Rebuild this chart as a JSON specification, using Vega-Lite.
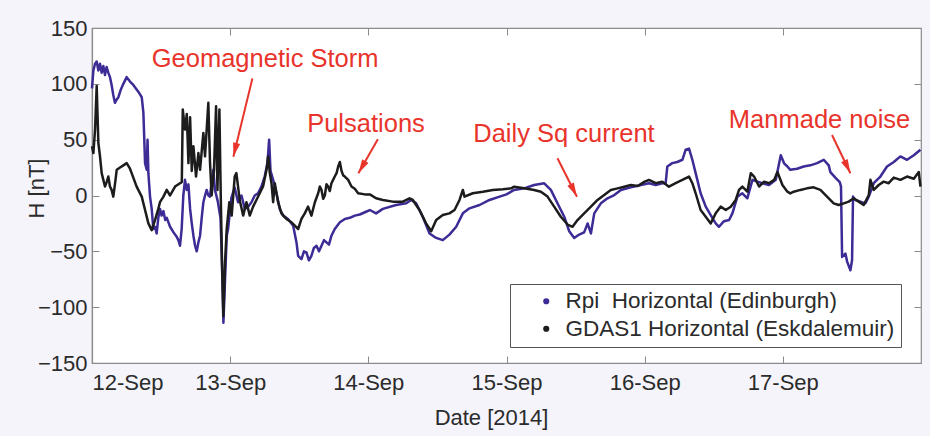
{
"$schema": "https://vega.github.io/schema/vega-lite/v6.json",
"width": 829, "height": 335,
"autosize": {"type": "none"},
"padding": {"left": 92, "top": 28, "right": 9, "bottom": 73},
"background": "#f4f4fa",
"config": {"font": "Liberation Sans", "view": {"fill": "white", "stroke": "#8a8a8a", "strokeWidth": 1.2}},
"datasets": {
"h": [
{"t":12.000,"s":"R","v":96},{"t":12.010,"s":"R","v":112},{"t":12.022,"s":"R","v":118},{"t":12.034,"s":"R","v":120},{"t":12.046,"s":"R","v":112},{"t":12.058,"s":"R","v":118},{"t":12.070,"s":"R","v":110},{"t":12.082,"s":"R","v":116},{"t":12.094,"s":"R","v":108},{"t":12.106,"s":"R","v":115},{"t":12.118,"s":"R","v":110},{"t":12.130,"s":"R","v":106},{"t":12.142,"s":"R","v":99},{"t":12.154,"s":"R","v":90},{"t":12.166,"s":"R","v":83},{"t":12.179,"s":"R","v":86},{"t":12.191,"s":"R","v":88},{"t":12.209,"s":"R","v":95},{"t":12.227,"s":"R","v":100},{"t":12.251,"s":"R","v":106},{"t":12.275,"s":"R","v":102},{"t":12.299,"s":"R","v":99},{"t":12.323,"s":"R","v":95},{"t":12.335,"s":"R","v":93},{"t":12.360,"s":"R","v":88},{"t":12.372,"s":"R","v":74},{"t":12.384,"s":"R","v":29},{"t":12.396,"s":"R","v":23},{"t":12.402,"s":"R","v":50},{"t":12.408,"s":"R","v":20},{"t":12.420,"s":"R","v":-1},{"t":12.432,"s":"R","v":-12},{"t":12.444,"s":"R","v":-30},{"t":12.456,"s":"R","v":-28},{"t":12.468,"s":"R","v":-34},{"t":12.480,"s":"R","v":-20},{"t":12.492,"s":"R","v":-12},{"t":12.504,"s":"R","v":-18},{"t":12.517,"s":"R","v":-14},{"t":12.530,"s":"R","v":-22},{"t":12.541,"s":"R","v":-20},{"t":12.565,"s":"R","v":-28},{"t":12.590,"s":"R","v":-33},{"t":12.613,"s":"R","v":-37},{"t":12.625,"s":"R","v":-40},{"t":12.637,"s":"R","v":-45},{"t":12.649,"s":"R","v":-30},{"t":12.661,"s":"R","v":0},{"t":12.673,"s":"R","v":14},{"t":12.686,"s":"R","v":5},{"t":12.698,"s":"R","v":10},{"t":12.710,"s":"R","v":-12},{"t":12.722,"s":"R","v":-25},{"t":12.734,"s":"R","v":-36},{"t":12.746,"s":"R","v":-45},{"t":12.758,"s":"R","v":-50},{"t":12.770,"s":"R","v":-42},{"t":12.782,"s":"R","v":-36},{"t":12.794,"s":"R","v":-20},{"t":12.806,"s":"R","v":-6},{"t":12.818,"s":"R","v":0},{"t":12.830,"s":"R","v":5},{"t":12.842,"s":"R","v":0},{"t":12.854,"s":"R","v":-1},{"t":12.866,"s":"R","v":12},{"t":12.878,"s":"R","v":23},{"t":12.890,"s":"R","v":5},{"t":12.910,"s":"R","v":-5},{"t":12.930,"s":"R","v":-20},{"t":12.939,"s":"R","v":-54},{"t":12.951,"s":"R","v":-114},{"t":12.963,"s":"R","v":-75},{"t":12.975,"s":"R","v":-36},{"t":12.985,"s":"R","v":-30},{"t":13.009,"s":"R","v":-2},{"t":13.033,"s":"R","v":7},{"t":13.057,"s":"R","v":-6},{"t":13.082,"s":"R","v":0},{"t":13.106,"s":"R","v":-12},{"t":13.130,"s":"R","v":-10},{"t":13.154,"s":"R","v":-6},{"t":13.178,"s":"R","v":0},{"t":13.202,"s":"R","v":2},{"t":13.226,"s":"R","v":8},{"t":13.250,"s":"R","v":17},{"t":13.270,"s":"R","v":29},{"t":13.282,"s":"R","v":50},{"t":13.292,"s":"R","v":22},{"t":13.311,"s":"R","v":14},{"t":13.335,"s":"R","v":2},{"t":13.359,"s":"R","v":-12},{"t":13.383,"s":"R","v":-18},{"t":13.419,"s":"R","v":-21},{"t":13.456,"s":"R","v":-27},{"t":13.480,"s":"R","v":-42},{"t":13.492,"s":"R","v":-54},{"t":13.516,"s":"R","v":-57},{"t":13.534,"s":"R","v":-50},{"t":13.552,"s":"R","v":-51},{"t":13.570,"s":"R","v":-58},{"t":13.588,"s":"R","v":-54},{"t":13.606,"s":"R","v":-47},{"t":13.625,"s":"R","v":-45},{"t":13.643,"s":"R","v":-50},{"t":13.661,"s":"R","v":-45},{"t":13.679,"s":"R","v":-40},{"t":13.697,"s":"R","v":-42},{"t":13.715,"s":"R","v":-44},{"t":13.733,"s":"R","v":-36},{"t":13.757,"s":"R","v":-30},{"t":13.794,"s":"R","v":-24},{"t":13.830,"s":"R","v":-21},{"t":13.866,"s":"R","v":-20},{"t":13.902,"s":"R","v":-18},{"t":13.938,"s":"R","v":-17},{"t":13.975,"s":"R","v":-15},{"t":14.011,"s":"R","v":-13},{"t":14.056,"s":"R","v":-16},{"t":14.105,"s":"R","v":-12},{"t":14.201,"s":"R","v":-8.5},{"t":14.274,"s":"R","v":-7},{"t":14.310,"s":"R","v":-4},{"t":14.346,"s":"R","v":-7},{"t":14.394,"s":"R","v":-19},{"t":14.443,"s":"R","v":-34},{"t":14.491,"s":"R","v":-38},{"t":14.539,"s":"R","v":-40},{"t":14.587,"s":"R","v":-35},{"t":14.636,"s":"R","v":-28},{"t":14.684,"s":"R","v":-16},{"t":14.732,"s":"R","v":-11.5},{"t":14.805,"s":"R","v":-8.5},{"t":14.877,"s":"R","v":-4},{"t":14.950,"s":"R","v":-1},{"t":15.000,"s":"R","v":1},{"t":15.055,"s":"R","v":5},{"t":15.128,"s":"R","v":6.4},{"t":15.200,"s":"R","v":9.4},{"t":15.273,"s":"R","v":10.9},{"t":15.321,"s":"R","v":5},{"t":15.369,"s":"R","v":-7},{"t":15.418,"s":"R","v":-19},{"t":15.454,"s":"R","v":-32},{"t":15.490,"s":"R","v":-38},{"t":15.526,"s":"R","v":-35},{"t":15.562,"s":"R","v":-33},{"t":15.587,"s":"R","v":-25},{"t":15.611,"s":"R","v":-34},{"t":15.635,"s":"R","v":-16},{"t":15.683,"s":"R","v":-7},{"t":15.731,"s":"R","v":-2.5},{"t":15.780,"s":"R","v":0.4},{"t":15.828,"s":"R","v":5},{"t":15.900,"s":"R","v":7.3},{"t":15.973,"s":"R","v":9.4},{"t":16.031,"s":"R","v":11},{"t":16.080,"s":"R","v":9.4},{"t":16.128,"s":"R","v":11},{"t":16.152,"s":"R","v":11},{"t":16.164,"s":"R","v":26},{"t":16.200,"s":"R","v":29},{"t":16.236,"s":"R","v":30},{"t":16.273,"s":"R","v":32},{"t":16.297,"s":"R","v":41},{"t":16.321,"s":"R","v":42},{"t":16.345,"s":"R","v":32},{"t":16.369,"s":"R","v":20},{"t":16.405,"s":"R","v":2},{"t":16.442,"s":"R","v":-10},{"t":16.478,"s":"R","v":-17.5},{"t":16.514,"s":"R","v":-25},{"t":16.538,"s":"R","v":-28},{"t":16.574,"s":"R","v":-23},{"t":16.611,"s":"R","v":-22},{"t":16.635,"s":"R","v":-16},{"t":16.671,"s":"R","v":-1},{"t":16.707,"s":"R","v":2},{"t":16.743,"s":"R","v":-2.5},{"t":16.780,"s":"R","v":14},{"t":16.816,"s":"R","v":12.4},{"t":16.852,"s":"R","v":11},{"t":16.900,"s":"R","v":9.4},{"t":16.949,"s":"R","v":14},{"t":16.985,"s":"R","v":36},{"t":17.009,"s":"R","v":28.8},{"t":17.033,"s":"R","v":26},{"t":17.054,"s":"R","v":23},{"t":17.103,"s":"R","v":24},{"t":17.151,"s":"R","v":26},{"t":17.199,"s":"R","v":27},{"t":17.248,"s":"R","v":29},{"t":17.296,"s":"R","v":32},{"t":17.332,"s":"R","v":27},{"t":17.344,"s":"R","v":21},{"t":17.380,"s":"R","v":16},{"t":17.412,"s":"R","v":12},{"t":17.421,"s":"R","v":8},{"t":17.429,"s":"R","v":-55},{"t":17.453,"s":"R","v":-52},{"t":17.465,"s":"R","v":-59},{"t":17.489,"s":"R","v":-67},{"t":17.501,"s":"R","v":-58},{"t":17.508,"s":"R","v":-1},{"t":17.525,"s":"R","v":-4},{"t":17.561,"s":"R","v":-5.5},{"t":17.598,"s":"R","v":-7},{"t":17.622,"s":"R","v":-1},{"t":17.658,"s":"R","v":11},{"t":17.706,"s":"R","v":17},{"t":17.754,"s":"R","v":26},{"t":17.803,"s":"R","v":30},{"t":17.851,"s":"R","v":35},{"t":17.899,"s":"R","v":32},{"t":17.948,"s":"R","v":36},{"t":17.996,"s":"R","v":41},
{"t":12.000,"s":"G","v":44},{"t":12.010,"s":"G","v":38},{"t":12.022,"s":"G","v":59},{"t":12.034,"s":"G","v":98},{"t":12.046,"s":"G","v":47},{"t":12.058,"s":"G","v":35},{"t":12.070,"s":"G","v":20},{"t":12.082,"s":"G","v":14},{"t":12.094,"s":"G","v":8},{"t":12.106,"s":"G","v":12},{"t":12.118,"s":"G","v":17},{"t":12.130,"s":"G","v":8},{"t":12.142,"s":"G","v":5},{"t":12.154,"s":"G","v":-1},{"t":12.166,"s":"G","v":10},{"t":12.179,"s":"G","v":23},{"t":12.203,"s":"G","v":25},{"t":12.227,"s":"G","v":27},{"t":12.251,"s":"G","v":29},{"t":12.275,"s":"G","v":24},{"t":12.287,"s":"G","v":20},{"t":12.323,"s":"G","v":8},{"t":12.360,"s":"G","v":-1},{"t":12.384,"s":"G","v":-13},{"t":12.408,"s":"G","v":-25},{"t":12.432,"s":"G","v":-31},{"t":12.456,"s":"G","v":-22},{"t":12.480,"s":"G","v":-12},{"t":12.492,"s":"G","v":-6},{"t":12.517,"s":"G","v":-1},{"t":12.541,"s":"G","v":5},{"t":12.565,"s":"G","v":0},{"t":12.601,"s":"G","v":8},{"t":12.637,"s":"G","v":11},{"t":12.650,"s":"G","v":12},{"t":12.657,"s":"G","v":77},{"t":12.673,"s":"G","v":59},{"t":12.686,"s":"G","v":73},{"t":12.698,"s":"G","v":29},{"t":12.710,"s":"G","v":70},{"t":12.722,"s":"G","v":22},{"t":12.734,"s":"G","v":44},{"t":12.753,"s":"G","v":17},{"t":12.770,"s":"G","v":38},{"t":12.782,"s":"G","v":23},{"t":12.806,"s":"G","v":56},{"t":12.818,"s":"G","v":35},{"t":12.842,"s":"G","v":83},{"t":12.854,"s":"G","v":30},{"t":12.866,"s":"G","v":0},{"t":12.883,"s":"G","v":23},{"t":12.898,"s":"G","v":80},{"t":12.908,"s":"G","v":5},{"t":12.922,"s":"G","v":77},{"t":12.932,"s":"G","v":-1},{"t":12.941,"s":"G","v":-60},{"t":12.951,"s":"G","v":-108},{"t":12.963,"s":"G","v":-60},{"t":12.975,"s":"G","v":-30},{"t":12.994,"s":"G","v":-6},{"t":13.011,"s":"G","v":-18},{"t":13.033,"s":"G","v":17},{"t":13.045,"s":"G","v":20},{"t":13.069,"s":"G","v":-4},{"t":13.094,"s":"G","v":-18},{"t":13.118,"s":"G","v":-6},{"t":13.142,"s":"G","v":-18},{"t":13.166,"s":"G","v":-10},{"t":13.190,"s":"G","v":-4},{"t":13.214,"s":"G","v":2},{"t":13.238,"s":"G","v":8},{"t":13.263,"s":"G","v":23},{"t":13.275,"s":"G","v":35},{"t":13.287,"s":"G","v":20},{"t":13.299,"s":"G","v":11},{"t":13.311,"s":"G","v":-6},{"t":13.323,"s":"G","v":11},{"t":13.347,"s":"G","v":-6},{"t":13.371,"s":"G","v":-16},{"t":13.407,"s":"G","v":-21},{"t":13.444,"s":"G","v":-24},{"t":13.468,"s":"G","v":-27},{"t":13.492,"s":"G","v":-30},{"t":13.516,"s":"G","v":-21},{"t":13.540,"s":"G","v":-16},{"t":13.564,"s":"G","v":-10},{"t":13.588,"s":"G","v":-18},{"t":13.613,"s":"G","v":-6},{"t":13.637,"s":"G","v":2},{"t":13.649,"s":"G","v":8},{"t":13.661,"s":"G","v":5},{"t":13.673,"s":"G","v":-3},{"t":13.685,"s":"G","v":0},{"t":13.697,"s":"G","v":10},{"t":13.709,"s":"G","v":8},{"t":13.721,"s":"G","v":4},{"t":13.733,"s":"G","v":11},{"t":13.745,"s":"G","v":14},{"t":13.757,"s":"G","v":17},{"t":13.770,"s":"G","v":20},{"t":13.782,"s":"G","v":26},{"t":13.794,"s":"G","v":30},{"t":13.806,"s":"G","v":22},{"t":13.818,"s":"G","v":18},{"t":13.830,"s":"G","v":17},{"t":13.854,"s":"G","v":14},{"t":13.878,"s":"G","v":8},{"t":13.902,"s":"G","v":6},{"t":13.926,"s":"G","v":2},{"t":13.975,"s":"G","v":1},{"t":14.011,"s":"G","v":1},{"t":14.056,"s":"G","v":-2.5},{"t":14.105,"s":"G","v":-4},{"t":14.177,"s":"G","v":-5.5},{"t":14.250,"s":"G","v":-5.5},{"t":14.298,"s":"G","v":-2.5},{"t":14.322,"s":"G","v":-4},{"t":14.370,"s":"G","v":-13},{"t":14.418,"s":"G","v":-25},{"t":14.455,"s":"G","v":-32},{"t":14.491,"s":"G","v":-22},{"t":14.539,"s":"G","v":-17.5},{"t":14.587,"s":"G","v":-16},{"t":14.624,"s":"G","v":-13},{"t":14.660,"s":"G","v":-4},{"t":14.684,"s":"G","v":5},{"t":14.696,"s":"G","v":-1},{"t":14.756,"s":"G","v":2},{"t":14.829,"s":"G","v":3.4},{"t":14.901,"s":"G","v":5},{"t":14.974,"s":"G","v":5.5},{"t":15.034,"s":"G","v":6.4},{"t":15.055,"s":"G","v":7.9},{"t":15.128,"s":"G","v":6.4},{"t":15.200,"s":"G","v":5},{"t":15.249,"s":"G","v":3.4},{"t":15.297,"s":"G","v":-1},{"t":15.345,"s":"G","v":-10},{"t":15.393,"s":"G","v":-19},{"t":15.442,"s":"G","v":-26},{"t":15.478,"s":"G","v":-28},{"t":15.514,"s":"G","v":-22},{"t":15.562,"s":"G","v":-16},{"t":15.611,"s":"G","v":-10},{"t":15.659,"s":"G","v":-4},{"t":15.707,"s":"G","v":0.4},{"t":15.755,"s":"G","v":5},{"t":15.804,"s":"G","v":6.4},{"t":15.852,"s":"G","v":7.9},{"t":15.900,"s":"G","v":9.4},{"t":15.949,"s":"G","v":8.5},{"t":16.000,"s":"G","v":12.4},{"t":16.031,"s":"G","v":13.9},{"t":16.080,"s":"G","v":11},{"t":16.128,"s":"G","v":12.4},{"t":16.176,"s":"G","v":7.9},{"t":16.224,"s":"G","v":11},{"t":16.273,"s":"G","v":13.9},{"t":16.321,"s":"G","v":17},{"t":16.345,"s":"G","v":11},{"t":16.369,"s":"G","v":2},{"t":16.405,"s":"G","v":-13},{"t":16.442,"s":"G","v":-19},{"t":16.478,"s":"G","v":-25},{"t":16.514,"s":"G","v":-16},{"t":16.550,"s":"G","v":-10},{"t":16.587,"s":"G","v":-13},{"t":16.623,"s":"G","v":-10},{"t":16.659,"s":"G","v":-4},{"t":16.683,"s":"G","v":5},{"t":16.707,"s":"G","v":8},{"t":16.743,"s":"G","v":3.4},{"t":16.768,"s":"G","v":20},{"t":16.792,"s":"G","v":17},{"t":16.828,"s":"G","v":8},{"t":16.864,"s":"G","v":12.4},{"t":16.900,"s":"G","v":11},{"t":16.937,"s":"G","v":14},{"t":16.961,"s":"G","v":21},{"t":16.997,"s":"G","v":9.4},{"t":17.033,"s":"G","v":3.4},{"t":17.054,"s":"G","v":1.9},{"t":17.079,"s":"G","v":3.4},{"t":17.127,"s":"G","v":5},{"t":17.175,"s":"G","v":6.4},{"t":17.223,"s":"G","v":7.3},{"t":17.272,"s":"G","v":5},{"t":17.320,"s":"G","v":-1},{"t":17.368,"s":"G","v":-7},{"t":17.404,"s":"G","v":-8.5},{"t":17.441,"s":"G","v":-7},{"t":17.477,"s":"G","v":-5.5},{"t":17.513,"s":"G","v":-2.5},{"t":17.549,"s":"G","v":-5.5},{"t":17.585,"s":"G","v":-8.5},{"t":17.622,"s":"G","v":0.4},{"t":17.634,"s":"G","v":14},{"t":17.658,"s":"G","v":5},{"t":17.694,"s":"G","v":9.4},{"t":17.730,"s":"G","v":12.4},{"t":17.766,"s":"G","v":11},{"t":17.803,"s":"G","v":16},{"t":17.851,"s":"G","v":14},{"t":17.899,"s":"G","v":17},{"t":17.948,"s":"G","v":15},{"t":17.984,"s":"G","v":21},{"t":17.996,"s":"G","v":8}
],
"arrows": [
{"t":13.161,"v":104.9,"t2":13.023,"v2":34.7,"ht":13.040,"hv":43.4,"a":193.6},
{"t":14.069,"v":50.4,"t2":13.928,"v2":19.9,"ht":13.964,"hv":27.7,"a":209.7},
{"t":15.369,"v":33.3,"t2":15.510,"v2":-1.1,"ht":15.477,"hv":6.9,"a":153.2},
{"t":17.356,"v":54.2,"t2":17.489,"v2":19.9,"ht":17.458,"hv":28.0,"a":154.5}
],
"labels": [
{"t":13.253,"v":115.3,"txt":"Geomagnetic Storm"},
{"t":13.983,"v":57.1,"txt":"Pulsations"},
{"t":15.416,"v":48.2,"txt":"Daily Sq current"},
{"t":17.266,"v":60.2,"txt":"Manmade noise"}
]
},
"resolve": {"axis": {"x": "independent", "y": "independent"}},
"layer": [
{
"data": {"name": "h"},
"mark": {"type": "line", "strokeWidth": 2.5, "strokeJoin": "round"},
"encoding": {
"x": {"field": "t", "type": "quantitative", "scale": {"domain": [12, 18], "nice": false, "zero": false},
"axis": {"values": [12,13,14,15,16,17], "labelExpr": "datum.value + '-Sep'", "title": "Date [2014]", "grid": false,
"labelFontSize": 22, "labelColor": "#2b2b2b", "labelPadding": 16, "tickSize": -7, "tickColor": "#8a8a8a", "domainColor": "#8a8a8a", "domainWidth": 1.2,
"titleFontSize": 22, "titleFontWeight": "normal", "titleColor": "#2b2b2b", "titleX": 399, "titleY": 61, "titleBaseline": "alphabetic"}},
"y": {"field": "v", "type": "quantitative", "scale": {"domain": [-150, 150], "nice": false},
"axis": {"values": [-150,-100,-50,0,50,100,150], "title": "H [nT]", "grid": false,
"labelFontSize": 22, "labelColor": "#2b2b2b", "labelPadding": 12, "tickSize": -7, "tickColor": "#8a8a8a", "domainColor": "#8a8a8a", "domainWidth": 1.2,
"titleFontSize": 22, "titleFontWeight": "normal", "titleColor": "#2b2b2b", "titleX": -49, "titleY": 160, "titleBaseline": "alphabetic"}},
"color": {"field": "s", "type": "nominal", "scale": {"domain": ["R", "G"], "range": ["#3d2b96", "#1c1c1c"]},
"legend": {"orient": "none", "legendX": 418, "legendY": 256, "title": null, "strokeColor": "#555", "fillColor": "white", "padding": 6,
"symbolType": "circle", "symbolSize": 10, "symbolStrokeWidth": 3, "symbolOffset": 19, "labelOffset": 8, "labelFontSize": 22.5, "labelLimit": 500, "labelColor": "#2b2b2b", "rowPadding": 4.5,
"labelExpr": "datum.label == 'R' ? 'Rpi\u00a0 Horizontal (Edinburgh)' : 'GDAS1 Horizontal (Eskdalemuir)\u00a0\u00a0\u00a0\u00a0'"}}
}
},
{
"data": {"name": "arrows"},
"mark": {"type": "rule", "color": "#e8342b", "strokeWidth": 2},
"encoding": {
"x": {"field": "t", "type": "quantitative", "axis": {"orient": "top", "values": [12,13,14,15,16,17], "labels": false, "title": null, "grid": false, "tickSize": -7, "tickColor": "#8a8a8a", "domain": false}},
"y": {"field": "v", "type": "quantitative", "axis": {"orient": "right", "values": [-150,-100,-50,0,50,100,150], "labels": false, "title": null, "grid": false, "tickSize": -7, "tickColor": "#8a8a8a", "domain": false}},
"x2": {"field": "t2"}, "y2": {"field": "v2"}
}
},
{
"data": {"name": "arrows"},
"mark": {"type": "point", "shape": "M0,-1L0.36,0.4L-0.36,0.4Z", "filled": true, "color": "#e8342b", "size": 400, "opacity": 1},
"encoding": {
"x": {"field": "ht", "type": "quantitative", "axis": null},
"y": {"field": "hv", "type": "quantitative", "axis": null},
"angle": {"field": "a", "type": "quantitative", "scale": null}
}
},
{
"data": {"name": "labels"},
"mark": {"type": "text", "fontSize": 25.5, "color": "#e8342b", "align": "center", "baseline": "alphabetic"},
"encoding": {
"x": {"field": "t", "type": "quantitative", "axis": null},
"y": {"field": "v", "type": "quantitative", "axis": null},
"text": {"field": "txt"}
}
}
]
}
